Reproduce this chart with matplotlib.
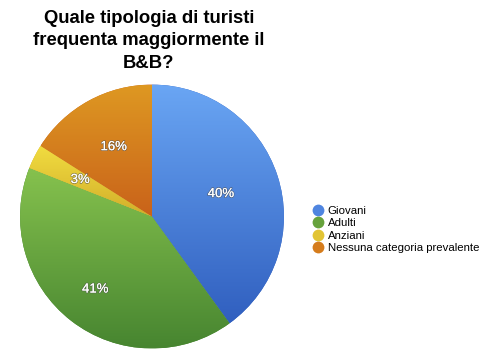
import numpy as np
import matplotlib.pyplot as plt
import matplotlib.patheffects as pe
from matplotlib.colors import LinearSegmentedColormap
from matplotlib.lines import Line2D

plt.rcParams['font.family'] = ['Liberation Sans', 'DejaVu Sans']

title = 'Quale tipologia di turisti\nfrequenta maggiormente il\nB&B?'
categories = ['Giovani', 'Adulti', 'Anziani', 'Nessuna categoria prevalente']
values = [40, 41, 3, 16]

# gradient top -> bottom for each slice
top_colors = ['#6aa6f4', '#86c24e', '#f1dc40', '#de9822']
bottom_colors = ['#305fbf', '#478530', '#d2ae2a', '#c9621a']
legend_colors = ['#4f85e0', '#66a23c', '#e2c434', '#d57c1c']
label_radius = [0.55, 0.70, 0.61, 0.60]

fig = plt.figure(figsize=(5.0, 3.63), dpi=100)
ax = fig.add_axes([0.04, 0.04, 0.528, 0.727])

wedges, _ = ax.pie(values, startangle=90, counterclock=False,
                   colors=bottom_colors, wedgeprops=dict(linewidth=0))

grad = np.linspace(1, 0, 256).reshape(-1, 1)
for w, c1, c2 in zip(wedges, top_colors, bottom_colors):
    th = np.radians(np.linspace(w.theta1, w.theta2, 200))
    ys = np.concatenate([np.sin(th), [0]])
    xs = np.concatenate([np.cos(th), [0]])
    cmap = LinearSegmentedColormap.from_list('g', [c2, c1])
    im = ax.imshow(grad, cmap=cmap, aspect='auto', origin='upper',
                   extent=[xs.min(), xs.max(), ys.min(), ys.max()], zorder=2)
    im.set_clip_path(w)

ax.set_xlim(-1, 1)
ax.set_ylim(-1, 1)
ax.set_aspect('equal')

for w, v, r in zip(wedges, values, label_radius):
    mid = np.radians((w.theta1 + w.theta2) / 2)
    ax.text(r * np.cos(mid), r * np.sin(mid), f'{v}%', ha='center', va='center',
            color='white', fontsize=9.5, zorder=5,
            path_effects=[pe.withStroke(linewidth=1.2, foreground='#555555', alpha=0.6), pe.Normal()])

fig.text(0.298, 0.972, title, ha='center', va='top', fontsize=13.3,
         fontweight='bold', linespacing=1.4)

handles = [Line2D([], [], marker='o', linestyle='none', markersize=8.5,
                  markerfacecolor=c, markeredgewidth=0) for c in legend_colors]
fig.legend(handles, categories, loc='upper left', bbox_to_anchor=(0.625, 0.432),
           frameon=False, fontsize=8.2, handletextpad=0.35, labelspacing=0.2,
           handlelength=1.0, borderaxespad=0, borderpad=0)

fig.savefig('out.png', dpi=100)
